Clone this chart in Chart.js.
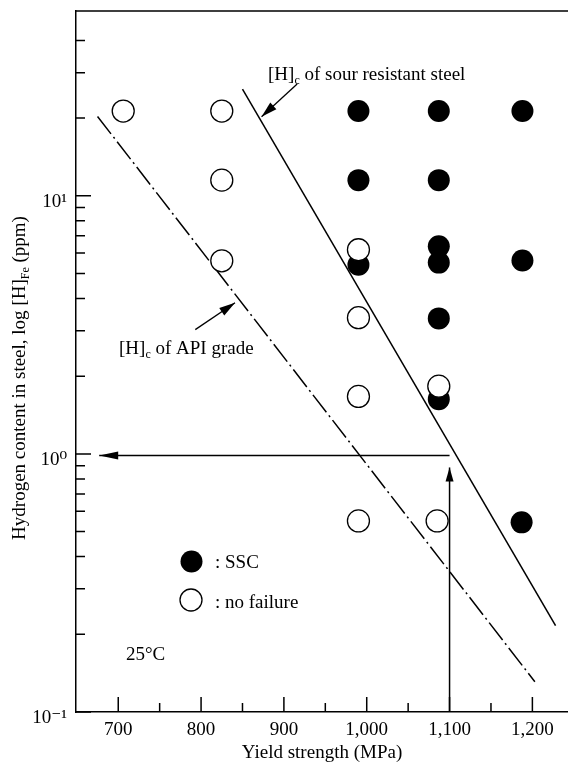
<!DOCTYPE html>
<html>
<head>
<meta charset="utf-8">
<script src="https://cdn.jsdelivr.net/npm/chart.js@4.4.0/dist/chart.umd.min.js"></script>
<style>
  html, body { margin: 0; padding: 0; background: #fff; }
  #wrap { width: 568px; height: 767px; }
</style>
</head>
<body>
<div id="wrap"><canvas id="chart" width="568" height="767"></canvas></div>
<script>
// values: yield strength (MPa) vs hydrogen content (ppm)
const sscYield = [990, 1087, 1188, 990, 1087, 990, 1087, 1087, 1188, 1087, 1087, 1187];
const sscHydrogen = [21.3, 21.3, 21.3, 11.5, 11.5, 5.41, 6.37, 5.51, 5.61, 3.35, 1.63, 0.543];

const okYield = [706, 825, 825, 825, 990, 990, 990, 1087, 990, 1085];
const okHydrogen = [21.3, 21.3, 11.5, 5.6, 6.18, 3.37, 1.67, 1.83, 0.55, 0.55];

// [H]c lines
const sourLineYield = [850, 1228];
const sourLineH = [25.9, 0.216];
const apiLineYield = [675, 1203];
const apiLineH = [20.3, 0.131];

// arrows, start -> tip
const readHYield = [1100, 677];
const readHValue = [0.985, 0.985];
const readVYield = [1100, 1100];
const readVValue = [0.1, 0.886];
const sourArrowYield = [916, 873];
const sourArrowH = [27.1, 20.25];
const apiArrowYield = [793, 841];
const apiArrowH = [3.03, 3.85];

// axis ticks
const xTicks = [700, 750, 800, 850, 900, 950, 1000, 1050, 1100, 1150, 1200];
const xLabelTicks = [700, 800, 900, 1000, 1100, 1200];
const yTicks = [0.1, 0.2, 0.3, 0.4, 0.5, 0.6, 0.7, 0.8, 0.9, 1, 2, 3, 4, 5, 6, 7, 8, 9, 10, 20, 30, 40];
const yLabelTicks = [0.1, 1, 10];
const yLabels = ["10\u207B\u00B9", "10\u2070", "10\u00B9"];

const FONT = "'Liberation Serif', 'DejaVu Serif', serif";
Chart.defaults.font.family = FONT;
Chart.defaults.color = "#000";

function pts(xs, ys) {
  return xs.map((v, i) => ({ x: v, y: ys[i] }));
}

function lineSet(xs, ys, extra) {
  return Object.assign({
    data: pts(xs, ys),
    showLine: true,
    borderColor: "#000",
    borderWidth: 1.5,
    pointRadius: 0,
    fill: false,
    order: 5,
  }, extra || {});
}

// tick marks point inward, plus the top frame line
const tickMarks = {
  id: "tickMarks",
  afterDraw(chart) {
    const { ctx, chartArea: a, scales } = chart;
    ctx.save();
    ctx.strokeStyle = "#000";
    ctx.lineWidth = 1.5;
    ctx.beginPath();
    ctx.moveTo(a.left, a.top);
    ctx.lineTo(a.right, a.top);
    scales.x.ticks.forEach((t) => {
      const px = scales.x.getPixelForValue(t.value);
      const len = xLabelTicks.includes(t.value) ? 15 : 9;
      ctx.moveTo(px, a.bottom);
      ctx.lineTo(px, a.bottom - len);
    });
    scales.y.ticks.forEach((t) => {
      const py = scales.y.getPixelForValue(t.value);
      const len = yLabelTicks.includes(t.value) ? 15 : 9;
      ctx.moveTo(a.left, py);
      ctx.lineTo(a.left + len, py);
    });
    ctx.stroke();
    ctx.restore();
  },
};

// filled heads at the last point of arrow datasets
const arrowHeads = {
  id: "arrowHeads",
  afterDatasetsDraw(chart) {
    const ctx = chart.ctx;
    chart.data.datasets.forEach((ds, i) => {
      if (!ds.arrowHead) return;
      const els = chart.getDatasetMeta(i).data;
      const tip = els[els.length - 1];
      const from = els[els.length - 2];
      const ang = Math.atan2(tip.y - from.y, tip.x - from.x);
      const len = ds.arrowHead[0];
      const half = ds.arrowHead[1];
      ctx.save();
      ctx.translate(tip.x, tip.y);
      ctx.rotate(ang);
      ctx.beginPath();
      ctx.moveTo(0, 0);
      ctx.lineTo(-len, half);
      ctx.lineTo(-len, -half);
      ctx.closePath();
      ctx.fillStyle = "#000";
      ctx.fill();
      ctx.restore();
    });
  },
};

// text with subscripts: parts = [text, size, dy]
function drawRich(ctx, parts, x, y) {
  let cx = x;
  parts.forEach((p) => {
    ctx.font = p[1] + "px " + FONT;
    ctx.fillText(p[0], cx, y + p[2]);
    cx += ctx.measureText(p[0]).width;
  });
}

function richWidth(ctx, parts) {
  let w = 0;
  parts.forEach((p) => {
    ctx.font = p[1] + "px " + FONT;
    w += ctx.measureText(p[0]).width;
  });
  return w;
}

const textLayer = {
  id: "textLayer",
  afterDraw(chart) {
    const ctx = chart.ctx;
    ctx.save();
    ctx.fillStyle = "#000";
    ctx.textAlign = "left";
    ctx.textBaseline = "alphabetic";

    drawRich(ctx, [["[H]", 19, 0], ["c", 12, 4], [" of sour resistant steel", 19, 0]], 268, 79.5);
    drawRich(ctx, [["[H]", 19, 0], ["c", 12, 4], [" of API grade", 19, 0]], 119, 354);

    // key
    ctx.beginPath();
    ctx.arc(191.5, 561.5, 11, 0, Math.PI * 2);
    ctx.fill();
    ctx.beginPath();
    ctx.arc(191, 600, 11, 0, Math.PI * 2);
    ctx.fillStyle = "#fff";
    ctx.fill();
    ctx.lineWidth = 1.3;
    ctx.strokeStyle = "#000";
    ctx.stroke();
    ctx.fillStyle = "#000";
    ctx.font = "19px " + FONT;
    ctx.fillText(": SSC", 215, 568);
    ctx.fillText(": no failure", 215, 608);
    ctx.fillText("25\u00B0C", 126, 660);

    // y axis title
    const title = [["Hydrogen content in steel, log [H]", 19, 0], ["Fe", 12, 4], [" (ppm)", 19, 0]];
    const w = richWidth(ctx, title);
    ctx.translate(25, 378);
    ctx.rotate(-Math.PI / 2);
    drawRich(ctx, title, -w / 2, 0);
    ctx.restore();
  },
};

new Chart(document.getElementById("chart"), {
  type: "scatter",
  data: {
    datasets: [
      {
        label: "no failure",
        data: pts(okYield, okHydrogen),
        pointRadius: 11,
        pointBackgroundColor: "#fff",
        pointBorderColor: "#000",
        pointBorderWidth: 1.3,
        order: 0,
      },
      {
        label: "SSC",
        data: pts(sscYield, sscHydrogen),
        pointRadius: 11,
        pointBackgroundColor: "#000",
        pointBorderColor: "#000",
        pointBorderWidth: 0,
        order: 1,
      },
      lineSet(sourLineYield, sourLineH),
      lineSet(apiLineYield, apiLineH, { borderDash: [22, 4, 2, 4] }),
      lineSet(readHYield, readHValue, { arrowHead: [19, 4] }),
      lineSet(readVYield, readVValue, { arrowHead: [14, 4] }),
      lineSet(sourArrowYield, sourArrowH, { borderWidth: 1.3, arrowHead: [16, 4.5] }),
      lineSet(apiArrowYield, apiArrowH, { borderWidth: 1.3, arrowHead: [16, 4.5] }),
    ],
  },
  options: {
    responsive: false,
    animation: false,
    events: [],
    layout: { autoPadding: false, padding: { top: 11, right: 0, bottom: 0, left: 0 } },
    plugins: { legend: { display: false }, tooltip: { enabled: false } },
    scales: {
      x: {
        type: "linear",
        min: 649,
        max: 1243,
        afterFit(s) { s.height = 55; s.paddingLeft = 0; s.paddingRight = 0; },
        afterBuildTicks(s) { s.ticks = xTicks.map((v) => ({ value: v })); },
        grid: { display: false, drawTicks: false },
        border: { display: true, color: "#000", width: 1.5 },
        ticks: {
          autoSkip: false,
          maxRotation: 0,
          padding: 7,
          color: "#000",
          font: { size: 19 },
          callback: (v) => (xLabelTicks.includes(v) ? v.toLocaleString("en-US") : ""),
        },
        title: {
          display: true,
          text: "Yield strength (MPa)",
          color: "#000",
          font: { size: 19 },
          padding: { top: 0, bottom: 3 },
        },
      },
      y: {
        type: "logarithmic",
        min: 0.1,
        max: 52,
        afterFit(s) { s.width = 76; s.paddingTop = 0; s.paddingBottom = 0; },
        afterBuildTicks(s) { s.ticks = yTicks.map((v) => ({ value: v })); },
        grid: { display: false, drawTicks: false },
        border: { display: true, color: "#000", width: 1.5 },
        ticks: {
          autoSkip: false,
          padding: 9,
          labelOffset: 6,
          color: "#000",
          font: { size: 19 },
          callback: (v) => {
            const k = yLabelTicks.indexOf(v);
            return k >= 0 ? yLabels[k] : "";
          },
        },
      },
    },
  },
  plugins: [tickMarks, arrowHeads, textLayer],
});
</script>
</body>
</html>
